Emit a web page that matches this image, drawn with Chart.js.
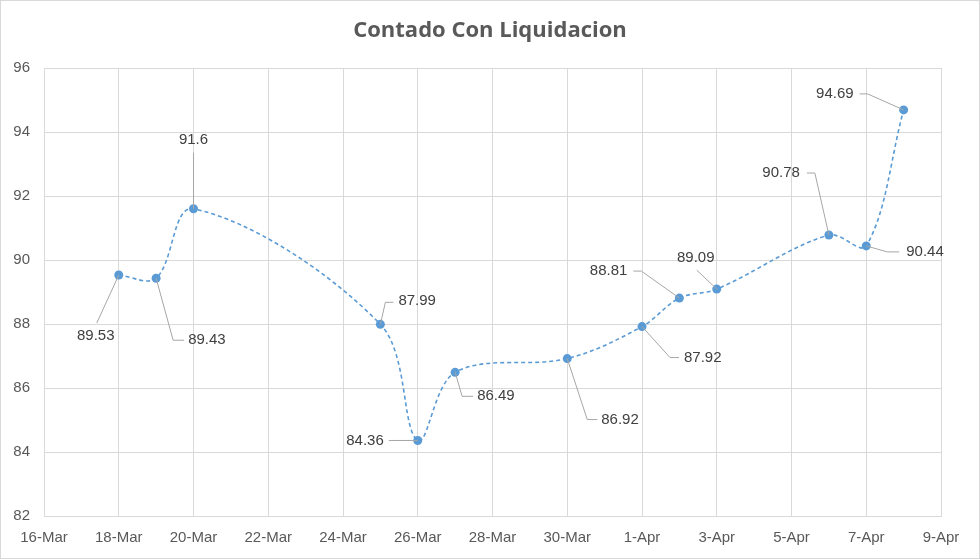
<!DOCTYPE html>
<html>
<head>
<meta charset="utf-8">
<script src="https://cdn.jsdelivr.net/npm/chart.js@4.4.1/dist/chart.umd.min.js"></script>
<style>
  html, body { margin: 0; padding: 0; background: #fff; }
  #wrap { position: relative; width: 978px; height: 557px; border: 1px solid #d9d9d9; }
</style>
</head>
<body>
<div id="wrap"><canvas id="cclChart"></canvas></div>
<script>
// Series
const chartTitle = 'Contado Con Liquidacion';
const startDate = '2020-03-16';
const dates = ['2020-03-18', '2020-03-19', '2020-03-20', '2020-03-25', '2020-03-26', '2020-03-27',
               '2020-03-30', '2020-04-01', '2020-04-02', '2020-04-03', '2020-04-06', '2020-04-07', '2020-04-08'];
const values = [89.53, 89.43, 91.6, 87.99, 84.36, 86.49, 86.92, 87.92, 88.81, 89.09, 90.78, 90.44, 94.69];
const tickLabels = ['16-Mar', '18-Mar', '20-Mar', '22-Mar', '24-Mar', '26-Mar', '28-Mar',
                    '30-Mar', '1-Apr', '3-Apr', '5-Apr', '7-Apr', '9-Apr'];

const DAY = 86400000;
const dayOffset = d => Math.round((Date.parse(d) - Date.parse(startDate)) / DAY);
const points = dates.map((d, i) => ({ x: dayOffset(d), y: values[i] }));

// where each data label sits relative to its point, plus its leader line
const labelLayout = [
    { dx: -23, dy: 61, align: 'center', path: [[-22, 48], [0, 0]] },
    { dx: 32, dy: 62, align: 'left', path: [[0, 0], [17, 62], [28, 62]] },
    { dx: 0, dy: -69, align: 'center', path: [[0, -56], [0, 0]] },
    { dx: 18, dy: -23, align: 'left', path: [[0, 0], [5, -22], [13, -22]] },
    { dx: -34, dy: 0, align: 'right', path: [[-29, 0], [0, 0]] },
    { dx: 22, dy: 24, align: 'left', path: [[0, 0], [7, 24], [18, 24]] },
    { dx: 34, dy: 61, align: 'left', path: [[0, 0], [20, 61], [30, 61]] },
    { dx: 42, dy: 31, align: 'left', path: [[0, 0], [28, 31], [37, 31]] },
    { dx: -52, dy: -27, align: 'right', path: [[-46, -27], [-38, -27], [0, 0]] },
    { dx: -21, dy: -31, align: 'center', path: [[-20, -19], [0, 0]] },
    { dx: -29, dy: -62, align: 'right', path: [[-22, -62], [-14, -62], [0, 0]] },
    { dx: 40, dy: 6, align: 'left', path: [[0, 0], [21, 6], [33, 6]] },
    { dx: -50, dy: -16, align: 'right', path: [[-44, -16], [-36, -16], [0, 0]] }
];

const dataLabels = {
    id: 'dataLabels',
    afterDatasetsDraw(chart) {
        const ctx = chart.ctx;
        const meta = chart.getDatasetMeta(0);
        ctx.save();
        meta.data.forEach((el, i) => {
            const lay = labelLayout[i];
            if (!lay) return;
            ctx.strokeStyle = '#a6a6a6';
            ctx.lineWidth = 1;
            ctx.beginPath();
            lay.path.forEach((p, j) => {
                const px = el.x + p[0], py = el.y + p[1];
                if (j === 0) ctx.moveTo(px, py); else ctx.lineTo(px, py);
            });
            ctx.stroke();
            ctx.fillStyle = '#404040';
            ctx.font = '15px "Liberation Sans", Arial, sans-serif';
            ctx.textAlign = lay.align;
            ctx.textBaseline = 'middle';
            ctx.fillText(String(values[i]), el.x + lay.dx, el.y + lay.dy);
        });
        ctx.restore();
    }
};

// title centred on the whole canvas (built-in title would centre inside the padding)
const pageTitle = {
    id: 'pageTitle',
    afterDraw(chart) {
        const ctx = chart.ctx;
        ctx.save();
        ctx.fillStyle = '#595959';
        ctx.font = 'bold 22px "Open Sans", sans-serif';
        ctx.textAlign = 'center';
        ctx.textBaseline = 'middle';
        ctx.fillText(chartTitle, chart.width / 2, 30);
        ctx.restore();
    }
};

new Chart(document.getElementById('cclChart'), {
    type: 'line',
    data: {
        datasets: [{
            label: 'CCL',
            data: points,
            borderColor: '#5b9bd5',
            borderWidth: 1.6,
            borderDash: [4, 3],
            tension: 0.35,
            pointRadius: 4.5,
            pointBackgroundColor: '#5b9bd5',
            pointBorderColor: '#5b9bd5',
            pointBorderWidth: 0,
            fill: false
        }]
    },
    options: {
        responsive: true,
        maintainAspectRatio: false,
        animation: false,
        layout: { padding: { left: 0, right: 38, top: 67, bottom: 0 } },
        plugins: {
            legend: { display: false },
            tooltip: { enabled: false },
            title: { display: false }
        },
        scales: {
            x: {
                type: 'linear',
                min: 0,
                max: 24,
                afterFit(scale) { scale.height = 42; },
                grid: { color: '#d9d9d9', drawTicks: false },
                border: { color: '#d9d9d9' },
                ticks: {
                    stepSize: 2,
                    padding: 13,
                    color: '#595959',
                    font: { family: '"Liberation Sans", Arial, sans-serif', size: 15 },
                    maxRotation: 0,
                    autoSkip: false,
                    callback: v => tickLabels[v / 2]
                }
            },
            y: {
                min: 82,
                max: 96,
                afterFit(scale) { scale.width = 43; },
                grid: { color: '#d9d9d9', drawTicks: false },
                border: { color: '#d9d9d9' },
                ticks: {
                    stepSize: 2,
                    padding: 14,
                    color: '#595959',
                    font: { family: '"Liberation Sans", Arial, sans-serif', size: 15 }
                }
            }
        }
    },
    plugins: [dataLabels, pageTitle]
});
</script>
</body>
</html>
